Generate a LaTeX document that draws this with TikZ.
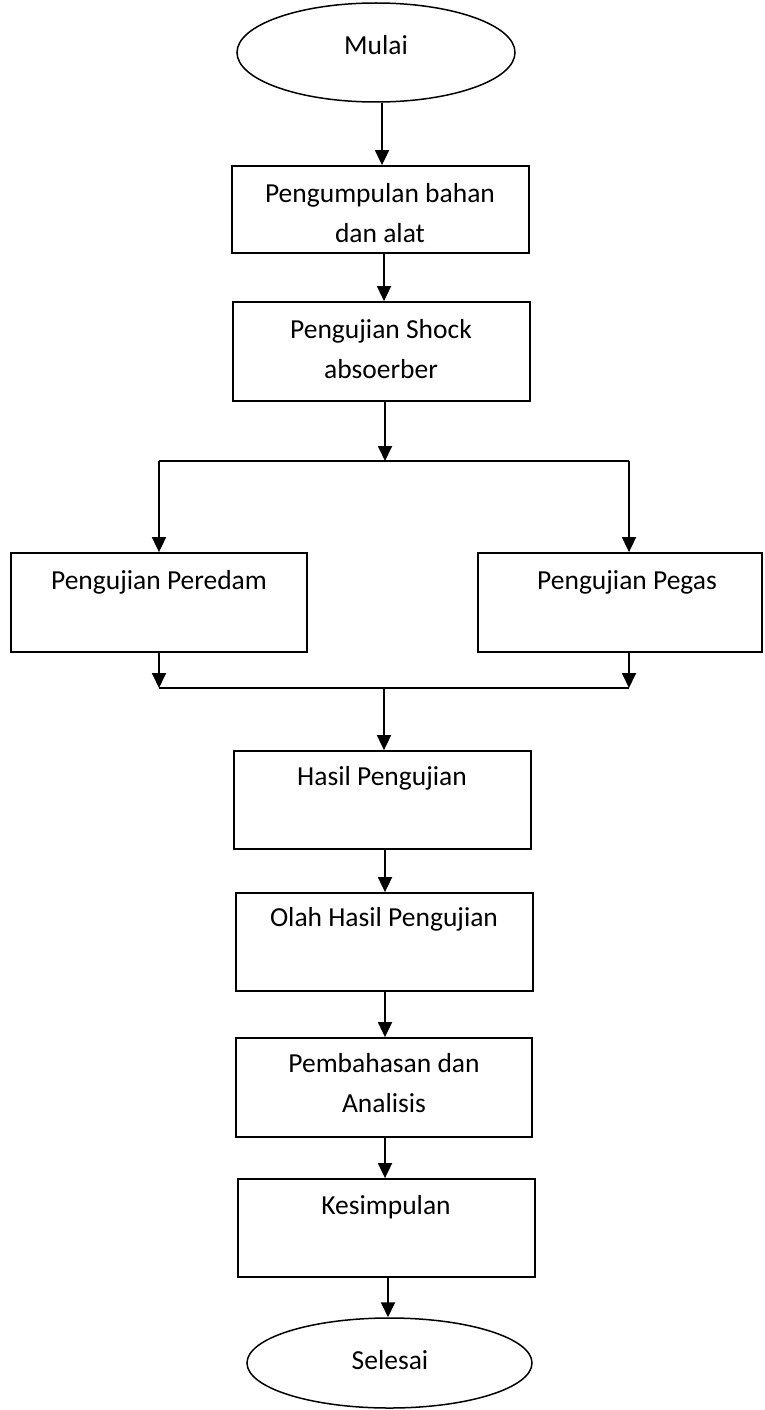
\documentclass[tikz,border=0pt]{standalone}
\usepackage{fontspec}
\setmainfont{Carlito}
\usetikzlibrary{shapes.geometric,arrows.meta}
\begin{document}
\begin{tikzpicture}[x=1pt,y=-1pt,
  box/.style={draw, line width=1.8pt, rectangle, inner sep=0pt},
  oval/.style={draw, line width=1.5pt, ellipse, inner sep=0pt},
  txt/.style={font=\fontsize{27.5}{40}\selectfont, align=center, inner sep=0pt},
  arr/.style={line width=1.8pt, -{Triangle[length=15pt,width=14pt]}},
  ln/.style={line width=1.8pt}]
\useasboundingbox (0,0) rectangle (764,1410);
% shapes
\node[oval, minimum width=278pt, minimum height=99pt] (mulai) at (376,52.5) {};
\node[box, minimum width=297pt, minimum height=87pt] (b1) at (380.5,209.5) {};
\node[box, minimum width=297pt, minimum height=99pt] (b2) at (381.5,351.5) {};
\node[box, minimum width=296pt, minimum height=99pt] (bl) at (159,602.5) {};
\node[box, minimum width=284pt, minimum height=99pt] (br) at (620,602.5) {};
\node[box, minimum width=297pt, minimum height=98pt] (b3) at (382.5,800) {};
\node[box, minimum width=297pt, minimum height=98pt] (b4) at (384.5,942) {};
\node[box, minimum width=296pt, minimum height=99pt] (b5) at (384,1087.5) {};
\node[box, minimum width=297pt, minimum height=98pt] (b6) at (386.5,1228) {};
\node[oval, minimum width=285pt, minimum height=90pt] (selesai) at (389.5,1363) {};
% texts
\node[txt] (t0) at (376,45) {Mulai};
\node[txt] (t1) at (380,213) {Pengumpulan bahan\\dan alat};
\node[txt] (t2) at (381,349) {Pengujian Shock\\absoerber};
\node[txt] (tl) at (159,582) {Pengujian Peredam};
\node[txt] (tr) at (627,582) {Pengujian Pegas};
\node[txt] (t3) at (382,778) {Hasil Pengujian};
\node[txt] (t4) at (384,919) {Olah Hasil Pengujian};
\node[txt] (t5) at (384,1083) {Pembahasan dan\\Analisis};
\node[txt] (t6) at (386,1207) {Kesimpulan};
\node[txt] (t7) at (390,1360) {Selesai};
% helper coordinates
\coordinate (x382) at (382,0);
\coordinate (x384) at (384,0);
\coordinate (x385) at (385,0);
\coordinate (x388) at (388,0);
\coordinate (x159) at (159,0);
\coordinate (x629) at (629,0);
\coordinate (sp) at (385,461);
\coordinate (sL) at (159,461);
\coordinate (sR) at (629,461);
\coordinate (mL) at (159,688);
\coordinate (mR) at (629,688);
\coordinate (mC) at (384,688);
% connectors
\draw[arr] (mulai.south -| x382) -- (b1.north -| x382);
\draw[arr] (b1.south -| x384) -- (b2.north -| x384);
\draw[arr] (b2.south -| x385) -- (sp);
\draw[ln] (sL) -- (sR);
\draw[arr] (sL) -- (bl.north -| x159);
\draw[arr] (sR) -- (br.north -| x629);
\draw[arr] (bl.south -| x159) -- (mL);
\draw[arr] (br.south -| x629) -- (mR);
\draw[ln] (mL) -- (mR);
\draw[arr] (mC) -- (b3.north -| x384);
\draw[arr] (b3.south -| x385) -- (b4.north -| x385);
\draw[arr] (b4.south -| x385) -- (b5.north -| x385);
\draw[arr] (b5.south -| x385) -- (b6.north -| x385);
\draw[arr] (b6.south -| x388) -- (selesai.north -| x388);
\end{tikzpicture}
\end{document}
